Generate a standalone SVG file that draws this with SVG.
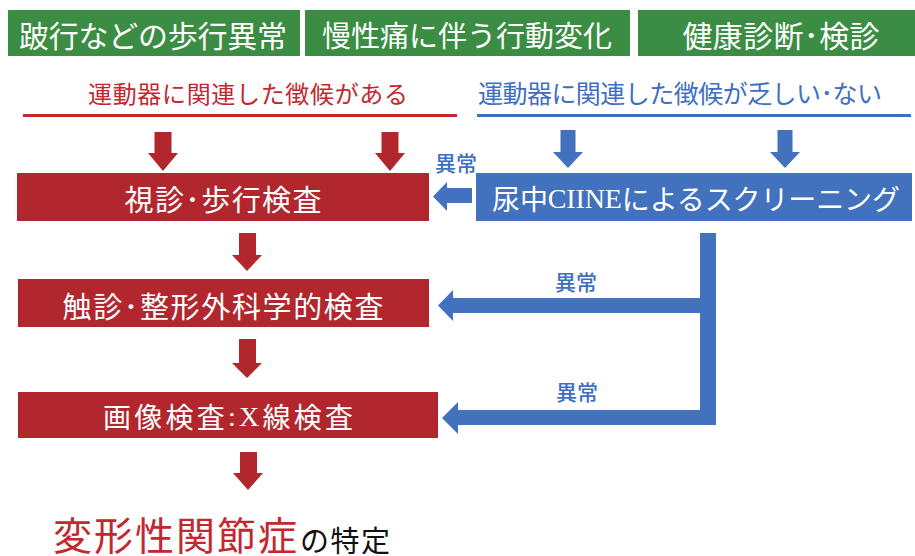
<svg xmlns="http://www.w3.org/2000/svg" width="915" height="556" viewBox="0 0 915 556">
  <style>
    text { font-family: "Noto Sans CJK JP", "Noto Sans", sans-serif; dominant-baseline: central; text-anchor: middle; }
    .green { fill: #3b8d43; }
    .red { fill: #b2272e; }
    .blue { fill: #4271be; }
    .wt { fill: #ffffff; }
    .lat { font-family: "Liberation Serif", "Noto Sans CJK JP", serif; }
    .lbl { fill: #3f6fc0; font-size: 21px; font-weight: 500; }
  </style>
  <rect width="915" height="556" fill="#ffffff"/>

  <g id="src-gait">
    <rect class="green" x="8" y="10" width="292" height="46"/>
    <text class="wt" x="153" y="34" font-size="30" textLength="268">跛行などの歩行異常</text>
  </g>
  <g id="src-pain">
    <rect class="green" x="305" y="10" width="325" height="46"/>
    <text class="wt" x="467" y="34" font-size="29" textLength="290">慢性痛に伴う行動変化</text>
  </g>
  <g id="src-checkup">
    <rect class="green" x="638" y="10" width="277" height="46"/>
    <text class="wt" x="781" y="34" font-size="30" textLength="197">健康診断･検診</text>
  </g>

  <g id="hdr-present">
    <text x="248" y="92" font-size="24" fill="#c4282f" textLength="320">運動器に関連した徴候がある</text>
    <rect x="23" y="114" width="434" height="3" fill="#c4282f"/>
  </g>
  <g id="hdr-absent">
    <text x="680" y="92" font-size="25" fill="#3f6fc0" textLength="404">運動器に関連した徴候が乏しい･ない</text>
    <rect x="477" y="114" width="434" height="3" fill="#3f6fc0"/>
  </g>

  <g id="visual">
    <rect class="red" x="17" y="173" width="412" height="48"/>
    <text class="wt" x="223" y="198" font-size="29" textLength="197">視診･歩行検査</text>
  </g>
  <g id="palpation">
    <rect class="red" x="18" y="279" width="411" height="48"/>
    <text class="wt" x="223" y="305" font-size="29" textLength="321">触診･整形外科学的検査</text>
  </g>
  <g id="imaging">
    <rect class="red" x="18" y="392" width="420" height="46"/>
    <text class="wt" x="228" y="416" font-size="28" textLength="250">画像検査<tspan class="lat">:X</tspan>線検査</text>
  </g>
  <g id="ciine">
    <rect class="blue" x="476" y="173" width="436" height="48"/>
    <text class="wt" x="696" y="198" font-size="28" textLength="408">尿中<tspan class="lat">CIINE</tspan>によるスクリーニング</text>
  </g>
  <g id="result">
    <text x="175" y="533" font-size="39" fill="#c4282f" textLength="244">変形性関節症</text>
    <text x="345" y="539" font-size="29" fill="#111111" textLength="90">の特定</text>
  </g>

  <g id="connectors">
    <polygon class="red" points="154.5,132 171.5,132 171.5,153 178,153 163,171 148,153 154.5,153"/>
    <polygon class="red" points="381.5,132 398.5,132 398.5,153 405,153 390,171 375,153 381.5,153"/>
    <polygon class="red" points="239,233 256,233 256,255 262,255 247,271 232,255 239,255"/>
    <polygon class="red" points="239,339 256,339 256,363 262,363 247,378 232,363 239,363"/>
    <polygon class="red" points="240,452 257,452 257,473 263,473 248,490 233,473 240,473"/>

    <polygon class="blue" points="560.5,130 575.5,130 575.5,152 583,152 568,168 553,152 560.5,152"/>
    <polygon class="blue" points="777.5,130 792.5,130 792.5,152 800,152 785,168 770,152 777.5,152"/>

    <polygon class="blue" points="472,188 472,203 447,203 447,211 433,196.5 447,182 447,188"/>
    <rect class="blue" x="700" y="233" width="16" height="192"/>
    <polygon class="blue" points="716,298 716,313 453,313 453,321 438,305.5 453,290 453,298"/>
    <polygon class="blue" points="716,410 716,425 458,425 458,434 442,418 458,402 458,410"/>

    <text class="lbl" x="456" y="162">異常</text>
    <text class="lbl" x="576" y="281">異常</text>
    <text class="lbl" x="577" y="391">異常</text>
  </g>
</svg>
